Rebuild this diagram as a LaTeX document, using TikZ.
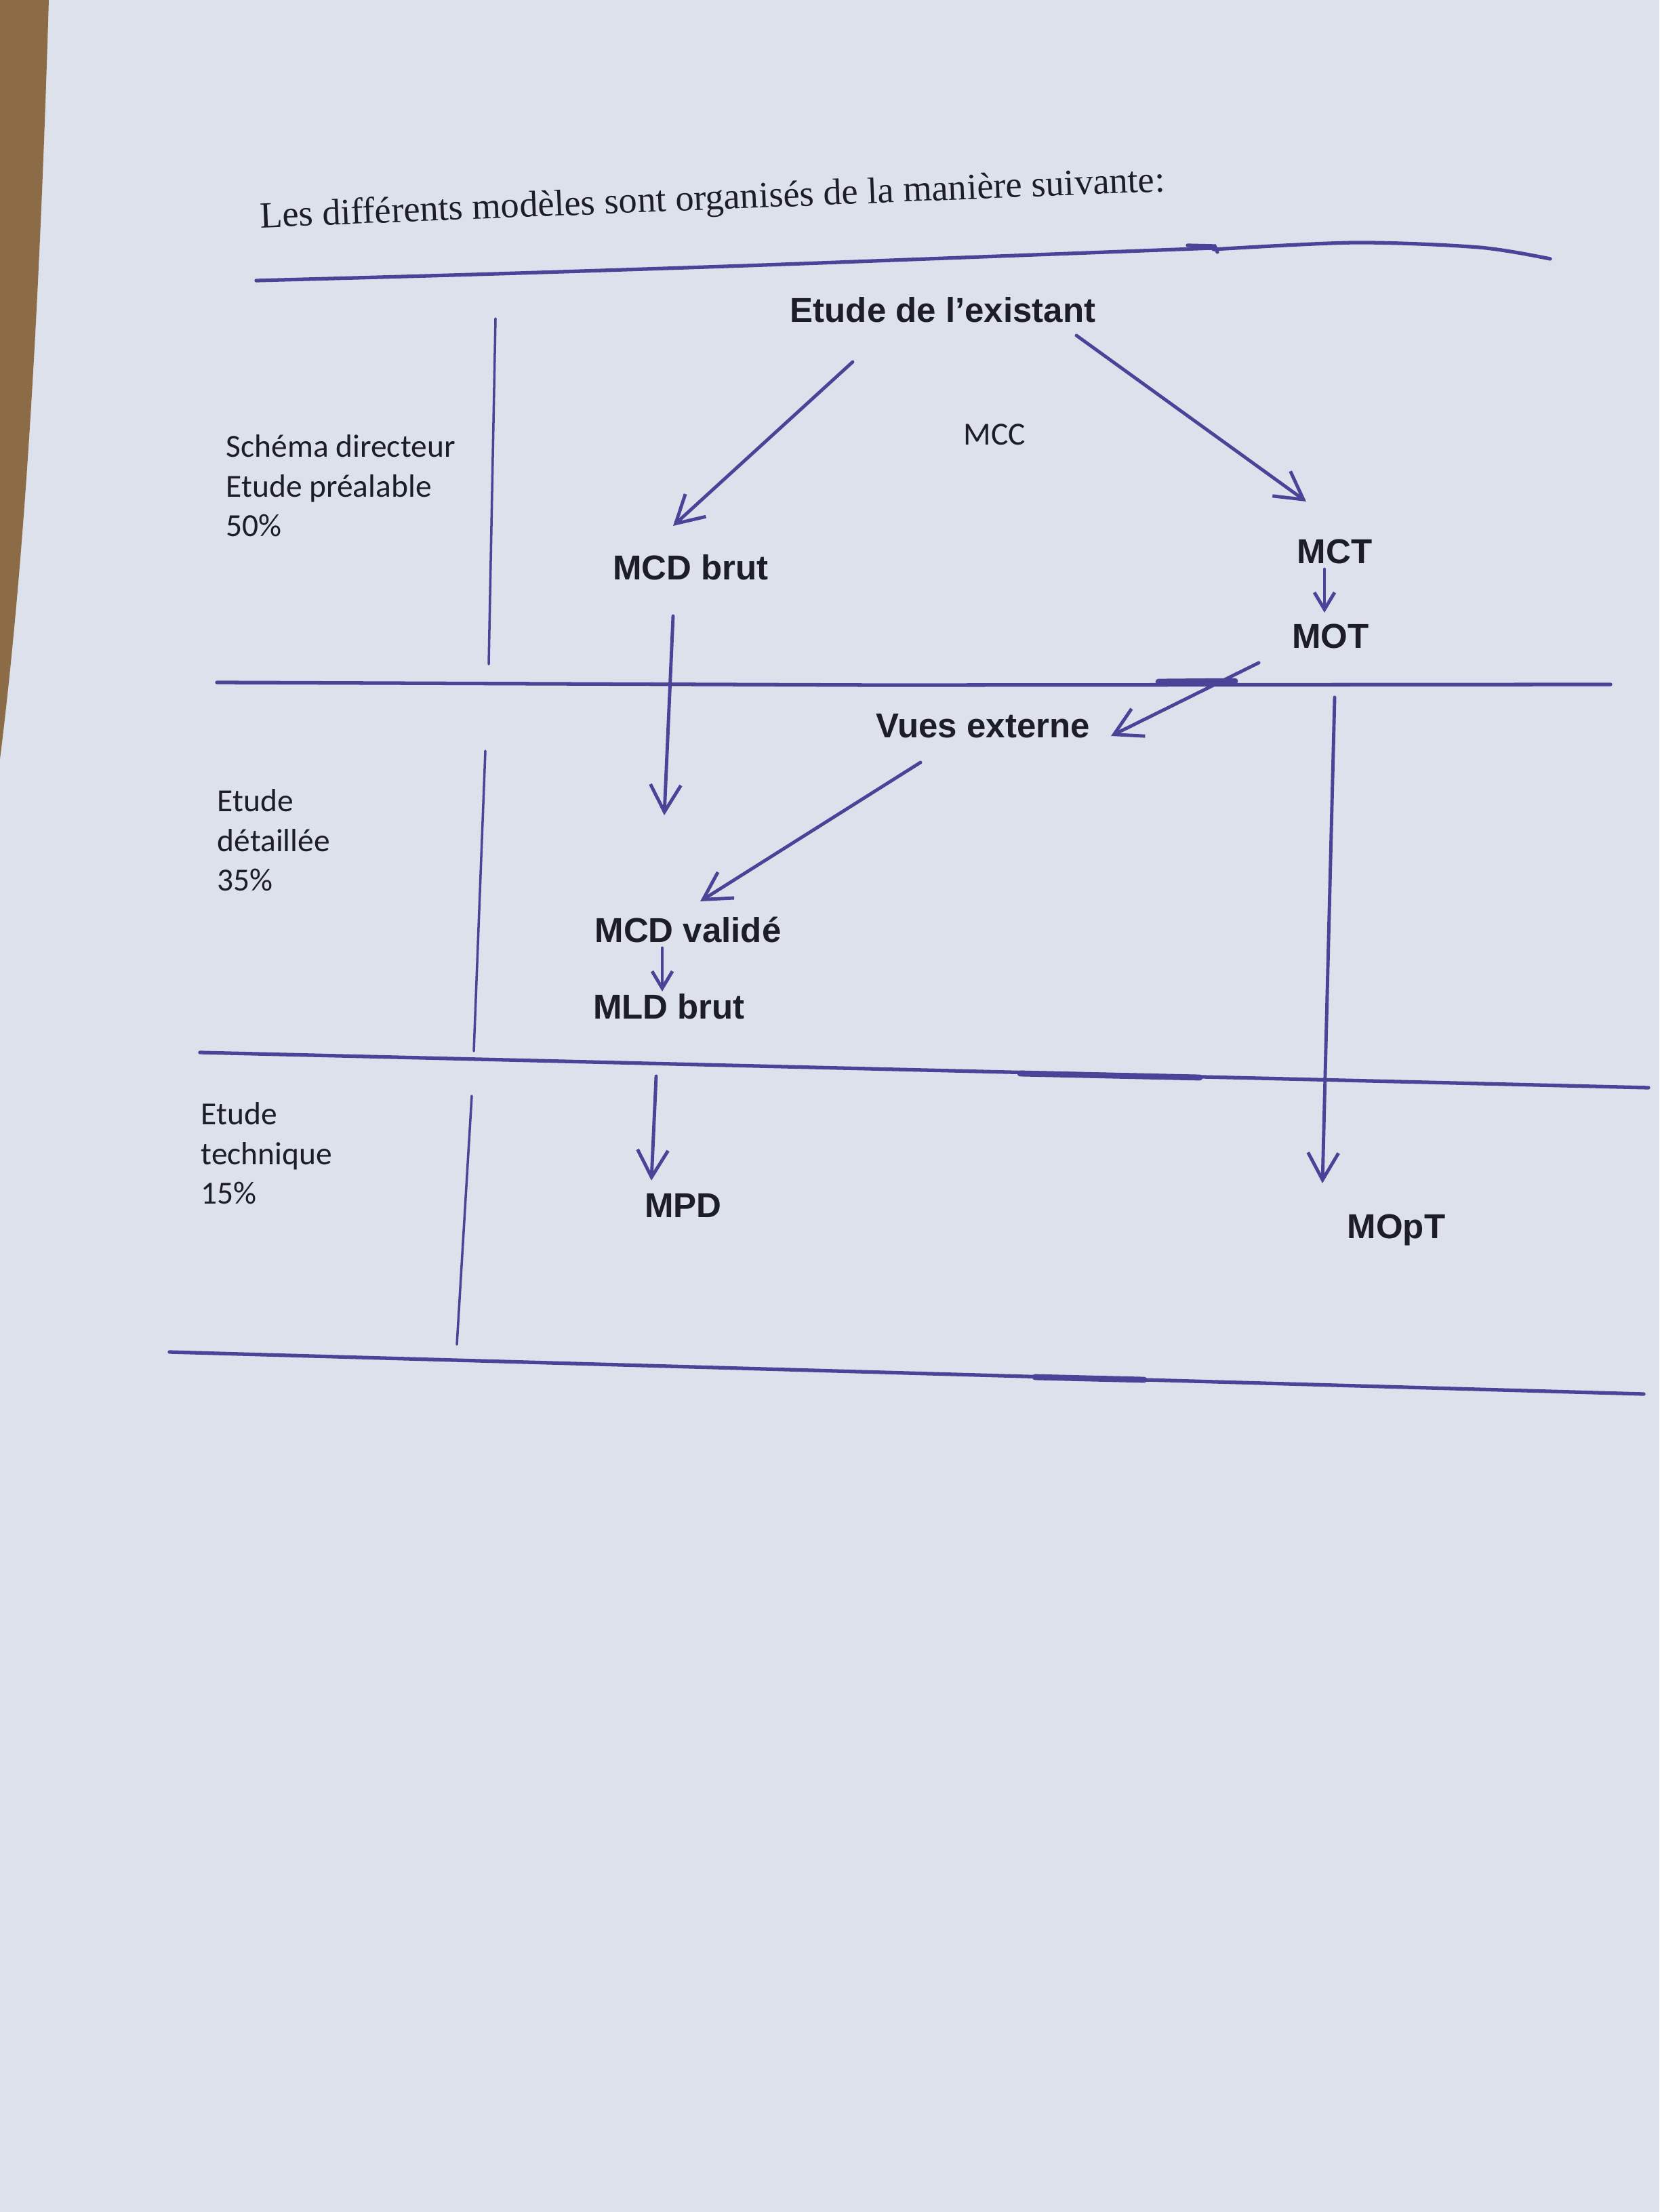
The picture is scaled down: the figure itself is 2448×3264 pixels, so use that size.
\documentclass[tikz,border=0pt]{standalone}
\usepackage{fontspec}
\setmainfont{Liberation Serif}
\newfontfamily\arialf{Liberation Sans}
\newfontfamily\calibf{Carlito}
\usepackage{tikz}
\usetikzlibrary{arrows.meta,calc}
\definecolor{ink}{HTML}{4A4398}
\definecolor{paper}{HTML}{DDE1EB}
\definecolor{wood}{HTML}{8C6B47}
\definecolor{txt}{HTML}{1C1C2A}

\begin{document}
\begin{tikzpicture}[x=0.01cm,y=-0.01cm,line cap=round]
\newcommand{\bsize}{\fontsize{14.5}{17}\selectfont}
\newcommand{\csize}{\fontsize{13.5}{16.6}\selectfont}
\fill[paper] (0,0) rectangle (2448,3264);
\fill[wood] (0,0) -- (72,0) .. controls (60,400) and (40,800) .. (0,1120) -- cycle;
\useasboundingbox (0,0) rectangle (2448,3264);
\node[text=txt,rotate=2.3,font=\fontsize{15.5}{18}\selectfont] (titre) at (1051,296) {Les différents modèles sont organisés de la manière suivante:};
\begin{scope}[text=txt]
\tikzstyle{every node}=[font=\arialf\bfseries\bsize]
\node (Etude) at (1391,457) {Etude de l’existant};
\node[font=\calibf\csize] (MCC) at (1467,641) {MCC};
\node (MCD_brut) at (1019,837) {MCD brut};
\node (MCT) at (1969,814) {MCT};
\node (MOT) at (1963,939) {MOT};
\node (Vues) at (1450,1071) {Vues externe};
\node (MCD_valide) at (1015,1372) {MCD validé};
\node (MLD_brut) at (987,1485) {MLD brut};
\node (MPD) at (1008,1779) {MPD};
\node (MOpT) at (2060,1815) {MOpT};
\end{scope}
\begin{scope}[text=txt]
\tikzstyle{every node}=[font=\calibf\csize,align=left,anchor=west,inner sep=0]
\node (Schema) at (333,717) {Schéma directeur\\Etude préalable\\50\%};
\node (Detail) at (320,1240) {Etude\\détaillée\\35\%};
\node (Technique) at (296,1702) {Etude\\technique\\15\%};
\end{scope}
\begin{scope}[ink,line width=1.5pt]
\draw plot[smooth] coordinates {(378,414) (700,405) (1100,392) (1500,377) (1790,366)};
\draw (1752,362) -- (1792,363) -- (1796,372);
\draw plot[smooth] coordinates {(1790,368) (1999,358) (2182,365) (2287,382)};
\draw (320,1007) -- (1300,1011) -- (2376,1010);
\draw[line width=2.5pt] (1709,1006) -- (1822,1005);
\draw (295,1553) -- (2432,1605);
\draw[line width=2.5pt] (1505,1584) -- (1770,1590);
\draw (250,1995) -- (2425,2057);
\draw[line width=2.5pt] (1527,2032) -- (1688,2036);
\end{scope}
\begin{scope}[ink,line width=1pt]
\draw (731,470) -- (721,980);
\draw (716,1108) -- (699,1551);
\draw (696,1617) -- (674,1984);
\end{scope}
\begin{scope}[ink,line width=1.4pt]
\tikzstyle{fleche}=[-{Straight Barb[length=4mm,width=4.5mm]}]
\tikzstyle{petite}=[-{Straight Barb[length=2.5mm,width=3mm]}]
\draw[fleche] ($(Etude)+(-133,77)$) -- ($(MCD_brut)+(-26,-61)$);
\draw[fleche] ($(Etude)+(197,38)$) -- ($(MCT)+(-42,-74)$);
\draw[petite] ($(MCT)+(-15,26)$) -- ($(MOT)+(-9,-35)$);
\draw[fleche] ($(MCD_brut)+(-26,72)$) -- ($(MCD_valide)+(-35,-169)$);
\draw[fleche] ($(MOT)+(-106,39)$) -- ($(Vues)+(189,15)$);
\draw[fleche] ($(Vues)+(-92,54)$) -- ($(MCD_valide)+(18,-42)$);
\draw[petite] ($(MCD_valide)+(-38,27)$) -- ($(MLD_brut)+(-10,-22)$);
\draw[fleche] ($(MOT)+(6,90)$) -- ($(MOpT)+(-109,-69)$);
\draw[fleche] ($(MLD_brut)+(-19,103)$) -- ($(MPD)+(-47,-37)$);
\end{scope}
\end{tikzpicture}
\end{document}
